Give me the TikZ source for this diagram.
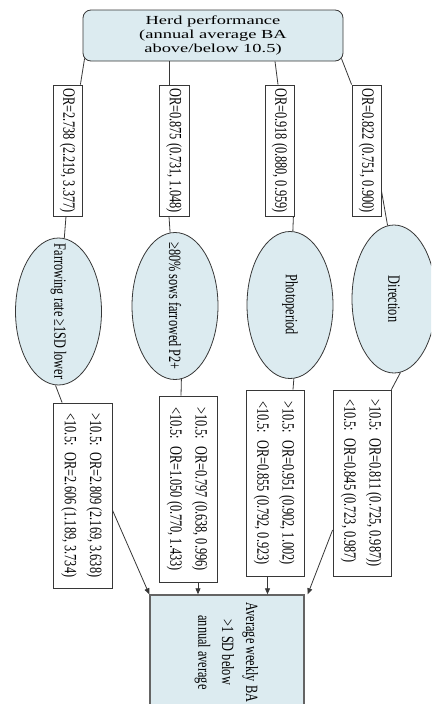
\documentclass[tikz,border=0pt]{standalone}
\usepackage{fontspec}
\setmainfont{Liberation Serif}
\usepackage{graphicx}
\usetikzlibrary{arrows.meta,shapes.geometric}
\definecolor{boxfill}{RGB}{220,235,240}
\definecolor{edgecol}{RGB}{55,55,55}
\definecolor{botedge}{RGB}{100,100,100}
\newcommand{\rottxt}[2][1.4]{\scalebox{#1}[1]{\rotatebox{-90}{#2}}}
\begin{document}
\begin{tikzpicture}[x=1pt,y=-1pt,
  box/.style={draw=edgecol, line width=0.8pt, rectangle, inner sep=0pt, fill=white},
  orbox/.style={box, minimum width=29pt, minimum height=131pt, font=\fontsize{12.3}{14}\selectfont},
  resbox/.style={box, minimum width=58pt, minimum height=186pt, font=\fontsize{12.3}{18}\selectfont},
  factor/.style={ellipse, draw=edgecol, line width=0.8pt, fill=boxfill, inner sep=0pt, minimum width=86pt, minimum height=147pt},
  ftext/.style={inner sep=0pt, font=\fontsize{12.3}{14}\selectfont},
  conn/.style={draw=edgecol, line width=0.8pt},
  arr/.style={conn, -{Triangle[length=6pt,width=5pt]}},
]
\useasboundingbox (0,0) rectangle (431,704);
\clip (0,0) rectangle (431,704);

% top node
\node[box, fill=boxfill, rounded corners=8pt, minimum width=260pt, minimum height=51pt,
      font=\fontsize{12.3}{14.3}\selectfont] (top) at (213,35.5)
  {\scalebox{1.5}[1]{\begin{tabular}{@{}c@{}}Herd performance\\(annual average BA\\above/below 10.5)\end{tabular}}};

% odds ratio boxes
\node[orbox] (or1) at (67.5,150.5) {\rottxt{OR=2.738 (2.219, 3.377)}};
\node[orbox, minimum width=30pt] (or2) at (174,150.5) {\rottxt{OR=0.875 (0.731, 1.048)}};
\node[orbox] (or3) at (279.5,150.5) {\rottxt{OR=0.918 (0.880, 0.959)}};
\node[orbox] (or4) at (366.5,150.5) {\rottxt{OR=0.822 (0.751, 0.900)}};

% factor ellipses
\node[factor] (e1) at (58.5,311.5) {};
\node[ftext] (t1) at (e1.center) {\rottxt{Farrowing rate ≥1SD lower}};
\node[factor] (e2) at (175,306) {};
\node[ftext] (t2) at (e2.center) {\rottxt{≥80\% sows farrowed P2+}};
\node[factor] (e3) at (290,305) {};
\node[ftext] (t3) at (e3.center) {\rottxt{Photoperiod}};
\node[factor, minimum width=84pt, minimum height=148pt] (e4) at (394,299) {};
\node[ftext] (t4) at (e4.center) {\rottxt{Direction}};

% stratified result boxes
\node[resbox, minimum width=59pt, minimum height=185pt] (l1) at (82.5,495.5)
  {\rottxt{\begin{tabular}{@{}l@{}}>10.5:~ OR=2.809 (2.169, 3.638)\\<10.5:~ OR=2.606 (1.189, 3.734)\end{tabular}}};
\node[resbox] (l2) at (188,489)
  {\rottxt{\begin{tabular}{@{}l@{}}>10.5:~ OR=0.797 (0.638, 0.996)\\<10.5:~ OR=1.050 (0.770, 1.433)\end{tabular}}};
\node[resbox] (l3) at (275,483)
  {\rottxt{\begin{tabular}{@{}l@{}}>10.5:~ OR=0.951 (0.902, 1.002)\\<10.5:~ OR=0.855 (0.792, 0.923)\end{tabular}}};
\node[resbox] (l4) at (362,483)
  {\rottxt{\begin{tabular}{@{}l@{}}>10.5:~ OR=0.811 (0.725, 0.987))\\<10.5:~ OR=0.845 (0.723, 0.987)\end{tabular}}};

% outcome box
\node[box, fill=boxfill, draw=botedge, line width=1.4pt, minimum width=154pt, minimum height=115pt,
      font=\fontsize{12.3}{17}\selectfont] (bot) at (227,652.5)
  {\rottxt{\begin{tabular}{@{}c@{}}Average weekly BA\\>1 SD below\\annual average\end{tabular}}};

% connectors: top -> OR boxes
\draw[conn] ([xshift=2pt,yshift=3pt]top.south west) -- ([xshift=-2pt]or1.north east);
\draw[conn] ([xshift=-5pt]or2.north |- top.south) -- ([xshift=-5pt]or2.north);
\draw[conn] ([xshift=-4.5pt]or3.north |- top.south) -- ([xshift=-1.5pt]or3.north);
\draw[conn] ([xshift=-2pt,yshift=3pt]top.south east) -- (or4.north west);

% OR boxes -> ellipses
\draw[conn] ([xshift=-1.5pt]or1.south) -- (e1);
\draw[conn] ([xshift=-5pt]or2.south) -- (e2);
\draw[conn] ([xshift=-1pt]or3.south east) -- (e3);
\draw[conn] ([yshift=-40pt]or4.east) -- (e4.95);

% ellipses -> result boxes
\draw[conn] ([xshift=-3pt]e1.south) -- ([xshift=9.5pt]l1.north west);
\draw[conn] (e2.-85) -- ([xshift=-7pt]l2.north);
\draw[conn] (e3.-87) -- ([xshift=18pt]l3.north);
\draw[conn] (e4.-85) -- (l4.north east);

% result boxes -> outcome
\draw[arr] ([yshift=-14.5pt]l1.east) -- (bot.north west);
\draw[arr] ([xshift=10pt]l2.south) -- ([xshift=10pt]l2.south |- bot.north);
\draw[arr] ([xshift=-7.5pt]l3.south) -- ([xshift=-7.5pt]l3.south |- bot.north);
\draw[arr] ([yshift=-47pt]l4.west) -- ([xshift=3pt]bot.north east);
\end{tikzpicture}
\end{document}
